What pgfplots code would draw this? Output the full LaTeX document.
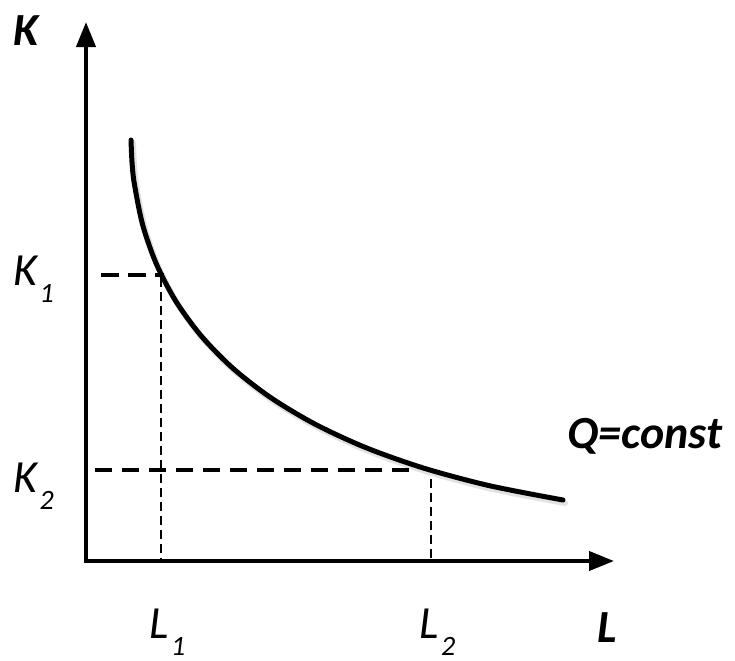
\documentclass[border=0pt]{standalone}
\usepackage{fontspec}
\setmainfont{Carlito}
\usepackage{pgfplots}
\pgfplotsset{compat=1.18}
\usetikzlibrary{arrows.meta}
\newcommand{\lab}[2]{\fontsize{23}{27}\selectfont\itshape #1\kern1.2pt\raisebox{-8.5pt}{\fontsize{14}{15}\selectfont #2}}
\begin{document}
\begin{tikzpicture}
\begin{axis}[
  width=367.5pt, height=330pt, scale only axis,
  xmin=0, xmax=735, ymin=0, ymax=660, y dir=reverse,
  hide axis, clip=false,
]
% curve shadow
\addplot[gray!50, opacity=0.45, line width=3pt, smooth, line cap=round] coordinates {
(133.0,143.0) (134.0,165.0) (136.3,186.5) (144.7,228.0) (158.5,267.3) (177.9,304.3)
(203.2,338.9) (234.6,371.0) (272.4,400.4) (316.8,427.0) (368.0,450.7) (426.3,471.3)
(491.9,488.8) (565.0,503.0)};
% curve
\addplot[black, line width=2.5pt, smooth, line cap=round] coordinates {
(131.0,140.0) (132.0,162.0) (134.3,183.5) (142.7,225.0) (156.5,264.3) (175.9,301.3)
(201.2,335.9) (232.6,368.0) (270.4,397.4) (314.8,424.0) (366.0,447.7) (424.3,468.3)
(489.9,485.8) (563.0,500.0)};
% dashed guides
\addplot[black, line width=1.9pt, dash pattern=on 9pt off 4.5pt] coordinates {(101,275) (164,275)};
\addplot[black, line width=1.9pt, dash pattern=on 8.5pt off 5pt] coordinates {(95,470) (418,470)};
\addplot[black, line width=0.8pt, dash pattern=on 4.5pt off 2.5pt] coordinates {(161,278) (161,561)};
\addplot[black, line width=0.8pt, dash pattern=on 4.5pt off 2.5pt] coordinates {(431,479) (431,561)};
% axes
\addplot[black, line width=2pt, -{Triangle[length=12.5pt,width=9.5pt]}] coordinates {(86,563) (86,22)};
\addplot[black, line width=2pt, -{Triangle[length=12.5pt,width=9.5pt]}] coordinates {(84,561) (614,561)};
% labels
\node[anchor=base west, inner sep=0] at (axis cs:13,45) {\fontsize{23}{27}\selectfont\bfseries\itshape K};
\node[anchor=base west, inner sep=0] at (axis cs:13,285) {\lab{K}{1}};
\node[anchor=base west, inner sep=0] at (axis cs:13,492) {\lab{K}{2}};
\node[anchor=base west, inner sep=0] at (axis cs:149,638) {\lab{L}{1}};
\node[anchor=base west, inner sep=0] at (axis cs:419,638) {\lab{L}{2}};
\node[anchor=base west, inner sep=0] at (axis cs:597,642) {\fontsize{23}{27}\selectfont\bfseries\itshape L};
\node[anchor=base west, inner sep=0] at (axis cs:567,448) {\fontsize{23}{27}\selectfont\bfseries\itshape Q=const};
\end{axis}
\pgfresetboundingbox
\path[use as bounding box] (0,0) rectangle (367.5pt,330pt);
\end{tikzpicture}
\end{document}
